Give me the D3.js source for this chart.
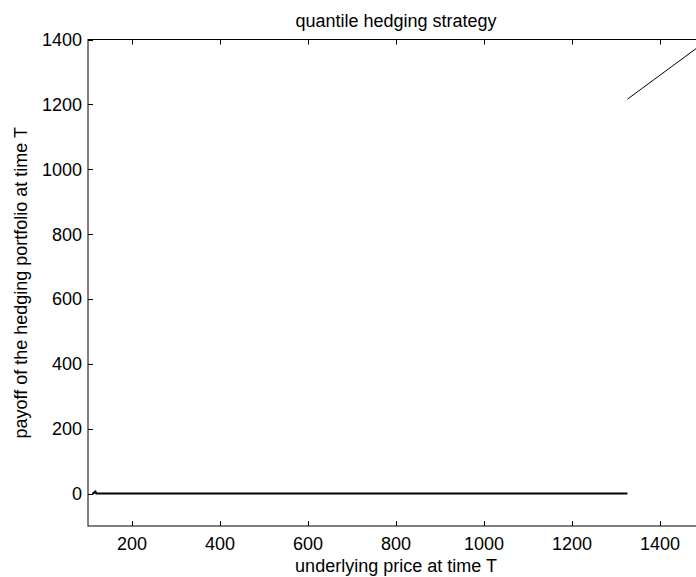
<!DOCTYPE html>
<html><head><meta charset="utf-8">
<script src="https://cdn.jsdelivr.net/npm/d3@7"></script>
<style>body{margin:0;background:#fff}svg{display:block}text{font-family:"Liberation Sans",Arial,sans-serif;fill:#000}</style>
</head><body>
<svg id="c" width="696" height="577"></svg>
<script>
const title = "quantile hedging strategy";
const xLabel = "underlying price at time T";
const yLabel = "payoff of the hedging portfolio at time T";
const xTicks = [200, 400, 600, 800, 1000, 1200, 1400];
const yTicks = [0, 200, 400, 600, 800, 1000, 1200, 1400];
// lower branch: payoff ~0 below threshold
const lowX = [110, 117, 119, 1326];
const lowY = [-1, 6, 0, 0];
// upper branch: payoff rises linearly above threshold
const highX = [1326, 1500];
const highY = [1216, 1390];

const svg = d3.select("#c");
const L = 88, R = 704, T = 39.5, B = 526;
const x = d3.scaleLinear().domain([100, 1500]).range([L, R]);
const y = d3.scaleLinear().domain([-100, 1400]).range([B, T]);
const fs = 18;

svg.append("rect").attr("x", L).attr("y", T).attr("width", R - L).attr("height", B - T)
  .attr("fill", "none").attr("stroke", "#000").attr("stroke-width", 1);

const tl = 5;
const gx = svg.append("g");
xTicks.forEach(v => {
  const px = Math.round(x(v)) + 0.5;
  gx.append("line").attr("x1", px).attr("x2", px).attr("y1", B).attr("y2", B - tl).attr("stroke", "#000");
  gx.append("line").attr("x1", px).attr("x2", px).attr("y1", T).attr("y2", T + tl).attr("stroke", "#000");
  gx.append("text").attr("x", x(v)).attr("y", 549.5).attr("text-anchor", "middle").attr("font-size", fs).text(v);
});
const gy = svg.append("g");
yTicks.forEach(v => {
  const py = Math.round(y(v)) + 0.5;
  gy.append("line").attr("x1", L).attr("x2", L + tl).attr("y1", py).attr("y2", py).attr("stroke", "#000");
  gy.append("line").attr("x1", R).attr("x2", R - tl).attr("y1", py).attr("y2", py).attr("stroke", "#000");
  gy.append("text").attr("x", L - 6).attr("y", y(v)).attr("dy", "0.36em").attr("text-anchor", "end").attr("font-size", fs).text(v);
});

const line = d3.line().x(d => x(d[0])).y(d => y(d[1]));
svg.append("path").attr("d", line(lowX.map((v, i) => [v, lowY[i]])))
  .attr("fill", "none").attr("stroke", "#000").attr("stroke-width", 2);
svg.append("path").attr("d", line(highX.map((v, i) => [v, highY[i]])))
  .attr("fill", "none").attr("stroke", "#000").attr("stroke-width", 1);

svg.append("text").attr("x", (L + R) / 2).attr("y", 26.5).attr("text-anchor", "middle").attr("font-size", fs).text(title);
svg.append("text").attr("x", (L + R) / 2).attr("y", 571.5).attr("text-anchor", "middle").attr("font-size", fs).text(xLabel);
svg.append("text").attr("transform", `translate(27,${(T + B) / 2}) rotate(-90)`).attr("text-anchor", "middle").attr("font-size", fs).text(yLabel);
</script>
</body></html>
